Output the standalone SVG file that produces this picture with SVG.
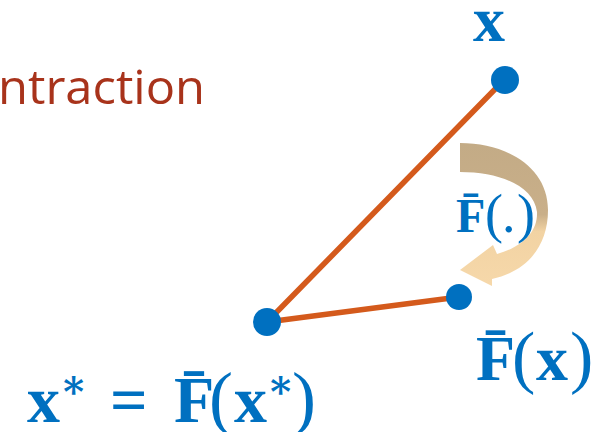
<svg xmlns="http://www.w3.org/2000/svg" width="611" height="432" viewBox="0 0 611 432">
<defs>
<linearGradient id="g" x1="0" y1="0" x2="0" y2="1" gradientUnits="objectBoundingBox">
<stop offset="0" stop-color="#C3AB86"/>
<stop offset="0.5" stop-color="#C9AF89"/>
<stop offset="0.62" stop-color="#F2D3A3"/>
<stop offset="1" stop-color="#F6D8AA"/>
</linearGradient>
</defs>
<style>
.m{font-family:"Liberation Serif","DejaVu Serif",serif;font-weight:bold;fill:#0070C0}
.p{font-weight:normal}
.pt{fill:#0070C0}
.ln{stroke:#D45A1C;stroke-width:5.5;stroke-linecap:round;fill:none}
</style>
<rect width="611" height="432" fill="#fff"/>
<text x="-2" y="104" font-family="'Open Sans','Noto Sans',sans-serif" font-size="48" fill="#A8331B" textLength="207" lengthAdjust="spacingAndGlyphs">ntraction</text>
<g id="connectors">
<line class="ln" x1="504" y1="80" x2="267" y2="322"/>
<line class="ln" x1="267" y1="322" x2="459" y2="297"/>
<path id="arrow" fill="url(#g)" d="M460,143 C508,143 548,168 548,210 C548,248 525,272 492,279 L492,286 L460,270 L493,245 L497,254 C522,247 538,232 537,212 C534,186 500,172 460,172 Z"/>
</g>
<g id="node-x">
<circle class="pt" cx="505" cy="80" r="14"/>
<text class="m" x="473" y="41" font-size="64">x</text>
</g>
<g id="node-Fx">
<circle class="pt" cx="459" cy="297" r="13"/>
<text class="m" x="476" y="380" font-size="64">F̄<tspan class="p" x="512" font-size="70">(</tspan><tspan x="536">x</tspan><tspan class="p" x="570" font-size="70">)</tspan></text>
</g>
<g id="node-xstar">
<circle class="pt" cx="267" cy="322" r="14"/>
<text class="m" x="27" y="422" font-size="66">x<tspan font-size="40" dy="-24">∗</tspan><tspan dy="24" x="110">=</tspan><tspan x="174">F̄</tspan><tspan class="p" x="209" font-size="72">(</tspan><tspan x="234">x</tspan><tspan font-size="40" dy="-24">∗</tspan><tspan class="p" font-size="72" dy="24" x="292">)</tspan></text>
</g>
<g id="label-F">
<text class="m" x="456" y="232" font-size="48">F̄<tspan class="p" x="485" font-size="54">(</tspan><tspan class="p" x="502" font-size="54">.</tspan><tspan class="p" x="517" font-size="54">)</tspan></text>
</g>
</svg>
